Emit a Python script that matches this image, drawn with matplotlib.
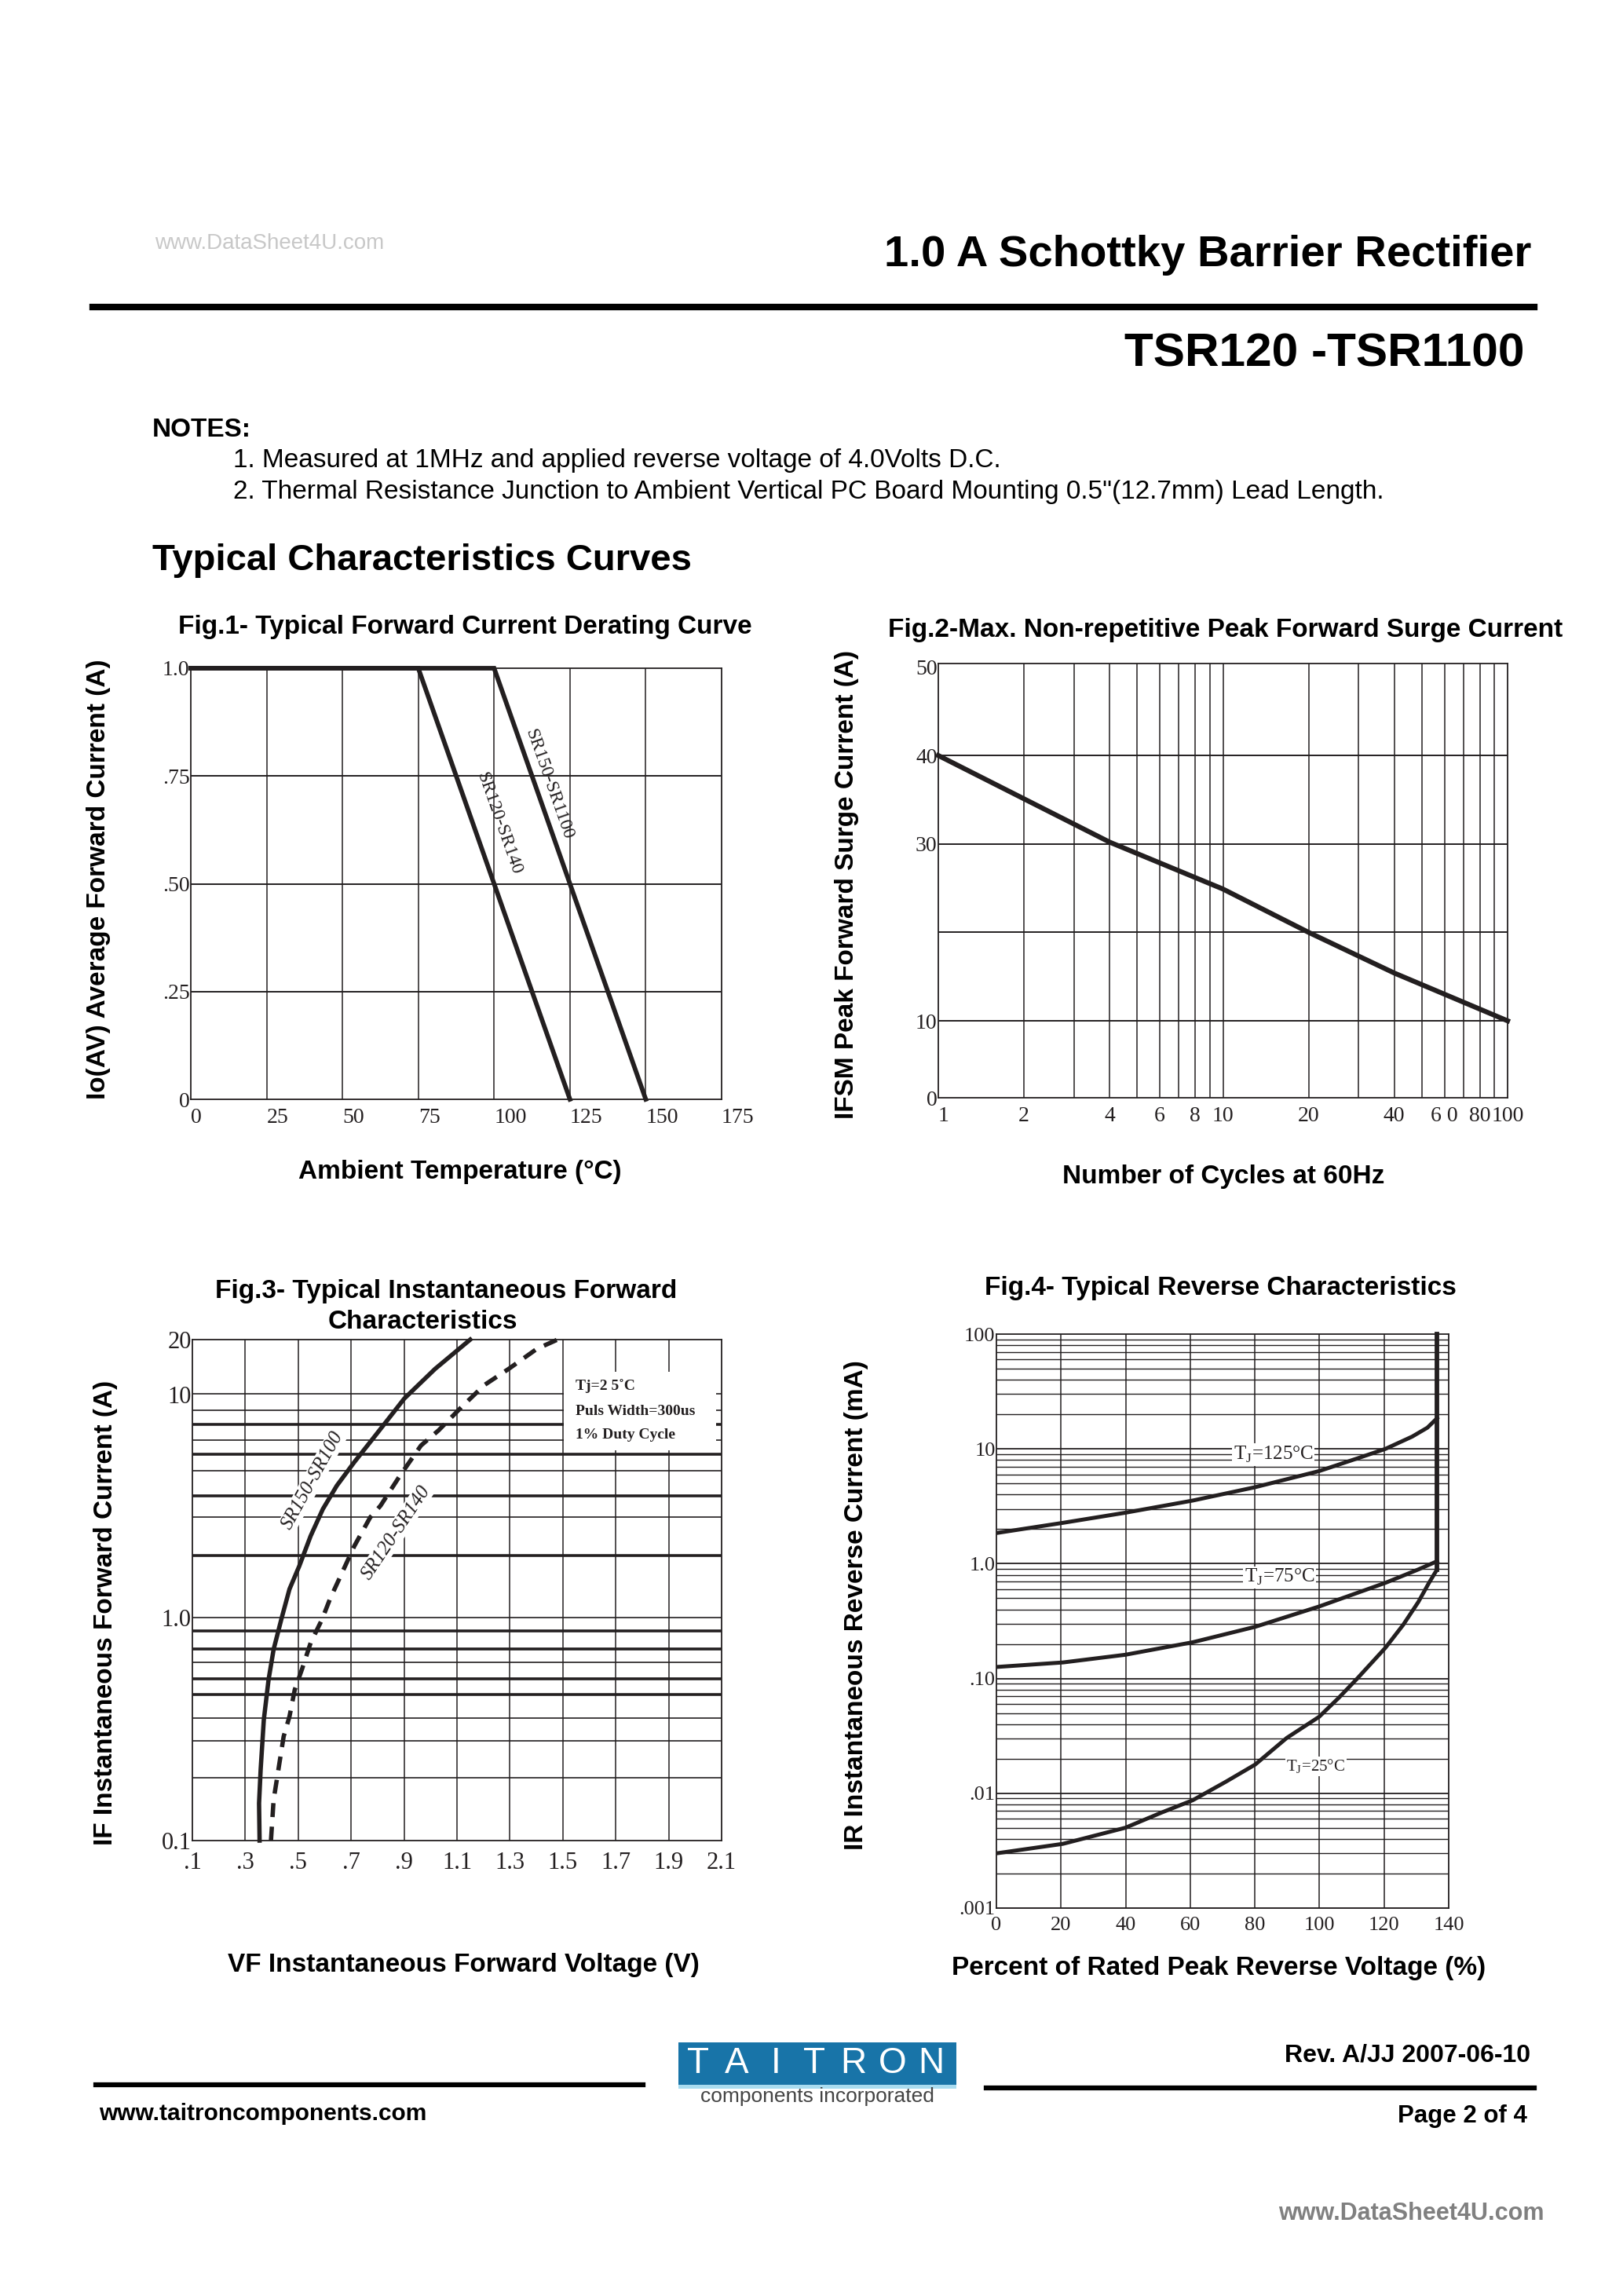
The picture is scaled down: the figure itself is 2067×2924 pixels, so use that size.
import matplotlib
matplotlib.use("Agg")
import matplotlib.pyplot as plt
from matplotlib.patches import Rectangle

W, H = 2067, 2924
SANS = "Liberation Sans"
SERIF = "Liberation Serif"
INK = "#231f20"

plt.rcParams["mathtext.fontset"] = "custom"
plt.rcParams["mathtext.rm"] = SERIF

# ---- Fig.1 derating curve ----
fig1_temp_sr120 = [0, 75, 125]
fig1_io_sr120 = [1.0, 1.0, 0.0]
fig1_temp_sr150 = [0, 100, 150]
fig1_io_sr150 = [1.0, 1.0, 0.0]
fig1_xticks = [0, 25, 50, 75, 100, 125, 150, 175]
fig1_yticks = [0, 0.25, 0.5, 0.75, 1.0]
fig1_ylabels = ["0", ".25", ".50", ".75", "1.0"]

# ---- Fig.2 surge current ----
fig2_cycles = [1, 2, 4, 10, 20, 40, 100]
fig2_ifsm = [40, 35.1, 30.2, 24.9, 20.0, 15.4, 10]
fig2_xgrid = [2, 3, 4, 5, 6, 7, 8, 9, 10, 20, 30, 40, 50, 60, 70, 80, 90]
fig2_ygrid = [10, 20, 30, 40]
fig2_xticks = [1, 2, 4, 6, 8, 10, 20, 40, 60, 80, 100]
fig2_xlabels = ["1", "2", "4", "6", "8", "10", "20", "40", "6 0", "80", "100"]
fig2_ylim = (1.3, 50.4)
fig2_yticks = [1.3, 10, 30, 40, 50]
fig2_ylabels = ["0", "10", "30", "40", "50"]

# ---- Fig.3 forward characteristics ----
fig3_vf_sr150 = [0.354, 0.352, 0.358, 0.370, 0.388, 0.407, 0.437, 0.467, 0.504,
                 0.547, 0.593, 0.646, 0.712, 0.792, 0.901, 1.017, 1.150]
fig3_if_sr150 = [0.1, 0.147, 0.208, 0.348, 0.527, 0.719, 0.99, 1.34, 1.70,
                 2.32, 3.06, 3.90, 4.97, 6.55, 9.58, 13.0, 17.6]
fig3_vf_sr120 = [0.397, 0.407, 0.427, 0.445, 0.467, 0.487, 0.514, 0.547, 0.590,
                 0.620, 0.666, 0.712, 0.772, 0.811, 0.885, 0.964, 1.030, 1.117,
                 1.203, 1.295, 1.402, 1.480]
fig3_if_sr120 = [0.1, 0.152, 0.215, 0.293, 0.36, 0.475, 0.585, 0.77, 0.98,
                 1.21, 1.59, 2.09, 2.81, 3.17, 4.33, 5.90, 6.89, 8.77,
                 11.0, 13.0, 16.0, 17.6]
fig3_xticks = [0.1, 0.3, 0.5, 0.7, 0.9, 1.1, 1.3, 1.5, 1.7, 1.9, 2.1]
fig3_xlabels = [".1", ".3", ".5", ".7", ".9", "1.1", "1.3", "1.5", "1.7", "1.9", "2.1"]
fig3_ylim = (0.1, 17.6)
fig3_yticks = [0.1, 1.0, 10, 17.6]
fig3_ylabels = ["0.1", "1.0", "10", "20"]
fig3_hgrid_thin = [0.191, 0.281, 0.354, 0.63, 1.0, 2.83, 4.55, 6.25, 8.49, 10.1]
fig3_hgrid_thick = [0.45, 0.53, 0.72, 0.87, 1.89, 3.51, 5.37, 7.32]
fig3_notes = ["Tj=2 5\u02daC", "Puls Width=300us", "1% Duty Cycle"]
fig3_note_if = [10.9, 8.4, 6.55]

# ---- Fig.4 reverse characteristics ----
fig4_pct_125 = [0, 20.6, 39.9, 60.8, 80.1, 99.9, 111.7, 120.4, 128.7, 133.4, 135.8, 136.4]
fig4_ir_125 = [1.85, 2.27, 2.78, 3.55, 4.64, 6.41, 8.26, 10.0, 12.8, 15.3, 17.8, 18.5]
fig4_pct_75 = [0, 20.6, 39.9, 60.8, 80.1, 99.9, 120.4, 130.6, 136.4]
fig4_ir_75 = [0.126, 0.138, 0.161, 0.207, 0.282, 0.424, 0.681, 0.891, 1.05]
fig4_pct_25 = [0, 20.6, 39.9, 51.2, 60.8, 71.0, 80.1, 89.9, 99.9, 106.0, 111.7, 120.4,
               125.9, 130.6, 133.9, 136.4]
fig4_ir_25 = [0.0030, 0.00363, 0.00501, 0.00681, 0.00871, 0.0126, 0.0178, 0.0304,
              0.0464, 0.068, 0.100, 0.185, 0.293, 0.464, 0.681, 0.891]
fig4_pct_bd = [136.4, 136.4]
fig4_ir_bd = [0.891, 100]
fig4_xticks = [0, 20, 40, 60, 80, 100, 120, 140]
fig4_yticks = [0.001, 0.01, 0.1, 1, 10, 100]
fig4_ylabels = [".001", ".01", ".10", "1.0", "10", "100"]


fig = plt.figure(figsize=(W / 100, H / 100), dpi=100)


def add_ax(left, top, right, bottom):
    return fig.add_axes([left / W, 1 - bottom / H, (right - left) / W, (bottom - top) / H])


def ftext(x, y, s, **kw):
    kw.setdefault("va", "center")
    fig.text(x / W, 1 - y / H, s, **kw)


def style_axes(ax, size=20):
    for sp in ax.spines.values():
        sp.set_linewidth(1.3)
        sp.set_color(INK)
    ax.tick_params(length=0, labelsize=size, colors=INK)
    for lbl in ax.get_xticklabels() + ax.get_yticklabels():
        lbl.set_fontfamily(SERIF)
    ax.minorticks_off()


LABEL = dict(fontsize=24, weight="bold", family=SANS)

# ---------------- header ----------------
ftext(197, 310, "www.DataSheet4U.com", fontsize=20, color="#c8c8c8", family=SANS)
ftext(1950, 325, "1.0 A Schottky Barrier Rectifier", fontsize=40.5, weight="bold",
      ha="right", family=SANS)
fig.add_artist(plt.Line2D([118 / W, 1954 / W], [1 - 391 / H] * 2, lw=6, color="black"))
ftext(1941, 451, "TSR120 -TSR1100", fontsize=43.5, weight="bold", ha="right", family=SANS)
ftext(194, 548, "NOTES:", fontsize=24, weight="bold", family=SANS)
ftext(297, 587, "1. Measured at 1MHz and applied reverse voltage of 4.0Volts D.C.",
      fontsize=24, family=SANS)
ftext(297, 626, "2. Thermal Resistance Junction to Ambient Vertical PC Board Mounting "
      "0.5\"(12.7mm) Lead Length.", fontsize=24, family=SANS)
ftext(194, 714, "Typical Characteristics Curves", fontsize=34, weight="bold", family=SANS)

# ---------------- Fig.1 ----------------
ax1 = add_ax(243, 851, 919, 1400)
ax1.set_xlim(0, 175)
ax1.set_ylim(0, 1.0)
for x in fig1_xticks[1:-1]:
    ax1.axvline(x, color=INK, lw=1.1)
for y in fig1_yticks[1:-1]:
    ax1.axhline(y, color=INK, lw=1.4)
ax1.plot(fig1_temp_sr120, fig1_io_sr120, color=INK, lw=4.2, clip_on=False,
         solid_joinstyle="miter", zorder=5)
ax1.plot(fig1_temp_sr150, fig1_io_sr150, color=INK, lw=4.2, clip_on=False,
         solid_joinstyle="miter", zorder=5)
ax1.set_xticks(fig1_xticks)
ax1.set_xticklabels([str(t) for t in fig1_xticks])
ax1.set_yticks(fig1_yticks)
ax1.set_yticklabels(fig1_ylabels)
style_axes(ax1)
for lbl in ax1.get_xticklabels():
    lbl.set_ha("left")
ax1.tick_params(axis="y", pad=1)
ax1.tick_params(axis="x", pad=8)
ax1.text(118, 0.73, "SR150-SR1100", rotation=-70.6, rotation_mode="anchor",
         ha="center", va="center", fontsize=17, family=SERIF, color=INK)
ax1.text(101.5, 0.64, "SR120-SR140", rotation=-70.6, rotation_mode="anchor",
         ha="center", va="center", fontsize=17, family=SERIF, color=INK)
ftext(592, 799, "Fig.1- Typical Forward Current Derating Curve", ha="center", **LABEL)
ftext(586, 1492, "Ambient Temperature (\u00b0C)", ha="center", **LABEL)
ftext(126, 1120, "Io(AV) Average Forward Current (A)", ha="center", rotation=90, **LABEL)

# ---------------- Fig.2 ----------------
ax2 = add_ax(1195, 845, 1920, 1398)
ax2.set_xscale("log")
ax2.set_xlim(1, 100)
ax2.set_ylim(*fig2_ylim)
for x in fig2_xgrid:
    ax2.axvline(x, color=INK, lw=1.1)
for y in fig2_ygrid:
    ax2.axhline(y, color=INK, lw=1.4)
ax2.plot(fig2_cycles, fig2_ifsm, color=INK, lw=4.5, clip_on=False, zorder=5)
ax2.set_xticks(fig2_xticks)
ax2.set_xticklabels(fig2_xlabels)
ax2.set_yticks(fig2_yticks)
ax2.set_yticklabels(fig2_ylabels)
style_axes(ax2)
ax2.tick_params(axis="y", pad=1)
ax2.tick_params(axis="x", pad=8)
ax2.get_xticklabels()[0].set_ha("left")
ftext(1561, 802, "Fig.2-Max. Non-repetitive Peak Forward Surge Current", ha="center",
      **LABEL)
ftext(1558, 1498, "Number of Cycles at 60Hz", ha="center", **LABEL)
ftext(1079, 1126, "IFSM Peak Forward Surge Current (A)", ha="center", rotation=90,
      **LABEL)

# ---------------- Fig.3 ----------------
ax3 = add_ax(245, 1706, 919, 2344)
ax3.set_yscale("log")
ax3.set_xlim(0.1, 2.1)
ax3.set_ylim(*fig3_ylim)
for x in fig3_xticks[1:-1]:
    ax3.axvline(x, color=INK, lw=1.1)
for y in fig3_hgrid_thin:
    ax3.axhline(y, color=INK, lw=1.2)
for y in fig3_hgrid_thick:
    ax3.axhline(y, color=INK, lw=2.6)
ax3.add_patch(Rectangle((1.505, 5.6), 0.573, 7.0, facecolor="white", edgecolor="none",
                        zorder=3))
ax3.plot(fig3_vf_sr150, fig3_if_sr150, color=INK, lw=4.0, clip_on=False, zorder=5,
         solid_joinstyle="round")
ax3.plot(fig3_vf_sr120, fig3_if_sr120, color=INK, lw=4.0, clip_on=False, zorder=5,
         linestyle=(0, (3.2, 2.2)))
for yy, note in zip(fig3_note_if, fig3_notes):
    ax3.text(1.547, yy, note, fontsize=14, family=SERIF, weight="bold", va="center",
             color=INK, zorder=4)
ax3.text(0.553, 4.1, "SR150-SR100", rotation=61, ha="center", va="center",
         rotation_mode="anchor", fontsize=18, style="italic", family=SERIF, color=INK,
         zorder=6, bbox=dict(facecolor="white", edgecolor="none", pad=1))
ax3.text(0.869, 2.4, "SR120-SR140", rotation=56, ha="center", va="center",
         rotation_mode="anchor", fontsize=18, style="italic", family=SERIF, color=INK,
         zorder=6, bbox=dict(facecolor="white", edgecolor="none", pad=1))
ax3.set_xticks(fig3_xticks)
ax3.set_xticklabels(fig3_xlabels)
ax3.set_yticks(fig3_yticks)
ax3.set_yticklabels(fig3_ylabels)
style_axes(ax3, size=22)
ax3.tick_params(axis="y", pad=1)
ax3.tick_params(axis="x", pad=10)
ftext(568, 1644, "Fig.3- Typical Instantaneous Forward", ha="center", **LABEL)
ftext(538, 1684, "Characteristics", ha="center", **LABEL)
ftext(590, 2503, "VF Instantaneous Forward Voltage (V)", ha="center", **LABEL)
ftext(135, 2054, "IF Instantaneous Forward Current (A)", ha="center", rotation=90,
      **LABEL)

# ---------------- Fig.4 ----------------
ax4 = add_ax(1269, 1699, 1845, 2430)
ax4.set_yscale("log")
ax4.set_xlim(0, 140)
ax4.set_ylim(0.001, 100)
for x in fig4_xticks[1:-1]:
    ax4.axvline(x, color=INK, lw=1.1)
for dec in fig4_yticks[:-1]:
    for k in range(1, 10):
        ax4.axhline(dec * k, color=INK, lw=1.0 if k > 1 else 1.3)
ax4.plot(fig4_pct_125, fig4_ir_125, color=INK, lw=3.6, zorder=5, solid_joinstyle="round")
ax4.plot(fig4_pct_75, fig4_ir_75, color=INK, lw=3.6, zorder=5, solid_joinstyle="round")
ax4.plot(fig4_pct_25, fig4_ir_25, color=INK, lw=3.6, zorder=5, solid_joinstyle="round")
ax4.plot(fig4_pct_bd, fig4_ir_bd, color=INK, lw=4.2, zorder=5, clip_on=False)
lbl_box = dict(facecolor="white", edgecolor="none", pad=1)
ax4.text(85.7, 8.9, "T$_{\\rm J}$=125\u00b0C", fontsize=18, family=SERIF, ha="center",
         va="center", color=INK, zorder=6, bbox=lbl_box)
ax4.text(87.6, 0.76, "T$_{\\rm J}$=75\u00b0C", fontsize=18, family=SERIF, ha="center",
         va="center", color=INK, zorder=6, bbox=lbl_box)
ax4.text(98.9, 0.0171, "T$_{\\rm J}$=25\u00b0C", fontsize=15, family=SERIF, ha="center",
         va="center", color=INK, zorder=6, bbox=lbl_box)
ax4.set_xticks(fig4_xticks)
ax4.set_xticklabels([str(t) for t in fig4_xticks])
ax4.set_yticks(fig4_yticks)
ax4.set_yticklabels(fig4_ylabels)
style_axes(ax4, size=19)
ax4.tick_params(axis="y", pad=1)
ax4.tick_params(axis="x", pad=8)
ftext(1554, 1640, "Fig.4- Typical Reverse Characteristics", ha="center", **LABEL)
ftext(1552, 2507, "Percent of Rated Peak Reverse Voltage (%)", ha="center", **LABEL)
ftext(1090, 2044, "IR Instantaneous Reverse Current (mA)", ha="center", rotation=90,
      **LABEL)

# ---------------- footer ----------------
logo = fig.add_axes([864 / W, 1 - 2660 / H, (1218 - 864) / W, (2660 - 2601) / H])
logo.set_axis_off()
logo.set_xlim(0, 1)
logo.set_ylim(0, 1)
logo.add_patch(Rectangle((0, 0.09), 1, 0.91, facecolor="#1874a8", edgecolor="none"))
logo.add_patch(Rectangle((0, 0), 1, 0.09, facecolor="#a9dcf0", edgecolor="none"))
for i, letter in enumerate("TAITRON"):
    logo.text(0.07 + i * 0.14, 0.55, letter, color="white", fontsize=33,
              ha="center", va="center", family=SANS)
ftext(1041, 2670, "components incorporated", fontsize=19, color="#444444",
      ha="center", family=SANS)
fig.add_artist(plt.Line2D([122 / W, 819 / W], [1 - 2655 / H] * 2, lw=4.5, color="black"))
fig.add_artist(plt.Line2D([1256 / W, 1954 / W], [1 - 2659 / H] * 2, lw=4.5, color="black"))
ftext(126, 2692, "www.taitroncomponents.com", fontsize=21.5, weight="bold", family=SANS)
ftext(1949, 2618, "Rev. A/JJ 2007-06-10", fontsize=23, weight="bold", ha="right",
      family=SANS)
ftext(1945, 2695, "Page 2 of 4", fontsize=22.5, weight="bold", ha="right", family=SANS)
ftext(1967, 2819, "www.DataSheet4U.com", fontsize=22, weight="bold", ha="right",
      color="#808080", family=SANS)

fig.savefig("out.png", dpi=100, facecolor="white")
